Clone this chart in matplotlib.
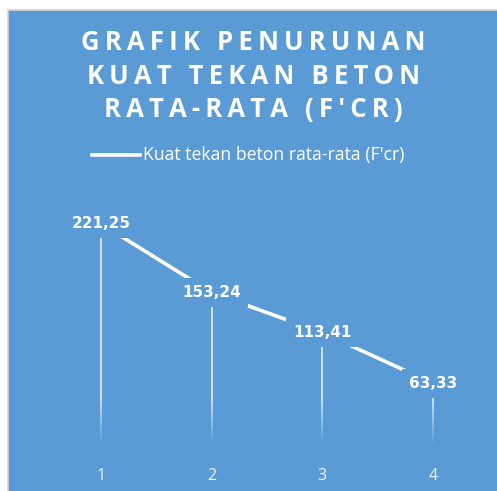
import numpy as np
import matplotlib.pyplot as plt
from matplotlib.patches import Rectangle
from matplotlib.collections import LineCollection

# --- data ---
categories = ['1', '2', '3', '4']
fcr = [221.25, 153.24, 113.41, 63.33]
labels = ['221,25', '153,24', '113,41', '63,33']

blue = '#5B9BD5'
title = 'GRAFIK PENURUNAN\nKUAT TEKAN BETON\nRATA-RATA (F\'CR)'
series_name = "Kuat tekan beton rata-rata (F'cr)"
fonts = ['Open Sans', 'DejaVu Sans']

fig = plt.figure(figsize=(4.97, 4.91), dpi=100, facecolor='white')
W, H = 497, 491

# chart area background with thin grey border
bg = Rectangle((8 / W, -0.05), 1.0, 1 - 10 / H + 0.05, transform=fig.transFigure,
               facecolor=blue, edgecolor='#d4d4d4', linewidth=1.2, zorder=-5)
fig.patches.append(bg)

ax = fig.add_axes([46 / W, 44 / H, (488 - 46) / W, (447 - 195) / H])
ax.patch.set_alpha(0)
x = np.arange(1, len(fcr) + 1)

# drop lines (fading towards the bottom)
for xi, v in zip(x, fcr):
    ys = np.linspace(0, v, 120)
    segs = [[(xi, ys[i]), (xi, ys[i + 1])] for i in range(len(ys) - 1)]
    fade = np.clip((ys[:-1] - 2) / 45, 0, 1)
    cols = [(1, 1, 1, 0.75 * f) for f in fade]
    ax.add_collection(LineCollection(segs, colors=cols, linewidths=1.3, zorder=2))

ax.plot(x, fcr, color='white', linewidth=2.6, solid_capstyle='butt', zorder=3,
        label=series_name)

for xi, v, t in zip(x, fcr, labels):
    ax.text(xi, v, t, ha='center', va='center', color='white', fontsize=11,
            fontweight='bold', family='DejaVu Sans', zorder=5,
            bbox=dict(facecolor=blue, edgecolor='none', pad=5))

ax.set_xlim(0.5, 4.5)
ax.set_ylim(0, 250)
ax.set_xticks(x)
ax.set_xticklabels(categories, color='#eef4fb', fontsize=11.5, family=fonts)
ax.set_yticks([])
ax.tick_params(axis='x', length=0, pad=15)
for s in ax.spines.values():
    s.set_visible(False)

# title with wide letter spacing
spaced = '\n'.join('\u2009'.join(line) for line in title.split('\n'))
fig.text(0.51, 1 - 76 / H, spaced, ha='center', va='center', color='white',
         fontsize=18.5, fontweight='bold', family=fonts, linespacing=1.3)

# legend
fig.add_artist(plt.Line2D([92 / W, 140 / W], [1 - 155 / H] * 2, color='white',
                          linewidth=2.6, transform=fig.transFigure))
fig.text(143 / W, 1 - 155 / H, series_name, ha='left', va='center', color='white',
         fontsize=12.7, family=fonts)

fig.savefig('out.png', dpi=100, facecolor='white')
